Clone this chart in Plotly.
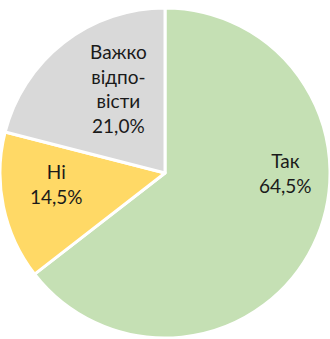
import plotly.graph_objects as go

# Survey answers and their shares (%)
labels = ["Так", "Ні", "Важко відпо-вісти"]
label_lines = [["Так"], ["Ні"], ["Важко", "відпо-", "вісти"]]
values = [64.5, 14.5, 21.0]
colors = ["#C5E0B4", "#FFD966", "#D9D9D9"]

# Label anchor points in paper coordinates (x, y)
label_pos = [(0.866, 0.491), (0.170, 0.456), (0.358, 0.739)]

W, H = 330, 339
fig = go.Figure(
    go.Pie(
        labels=labels,
        values=values,
        sort=False,
        direction="clockwise",
        rotation=0,
        marker=dict(colors=colors, line=dict(color="white", width=3)),
        textinfo="none",
        hoverinfo="label+percent",
        showlegend=False,
        domain=dict(x=[0, 1], y=[1 / H, 331 / H]),
    )
)

def fmt(v):
    return f"{v:.1f}".replace(".", ",") + "%"

for lines, v, (x, y) in zip(label_lines, values, label_pos):
    fig.add_annotation(
        x=x, y=y, xref="paper", yref="paper",
        text="<br>".join(lines + [fmt(v)]),
        showarrow=False,
        font=dict(family="Lato", size=19, color="#1a1a1a"),
        align="center",
        xanchor="center", yanchor="middle",
    )

fig.update_layout(
    width=W, height=H,
    margin=dict(l=0, r=0, t=0, b=0),
    paper_bgcolor="white",
    plot_bgcolor="white",
)

fig.write_html("out.html")
